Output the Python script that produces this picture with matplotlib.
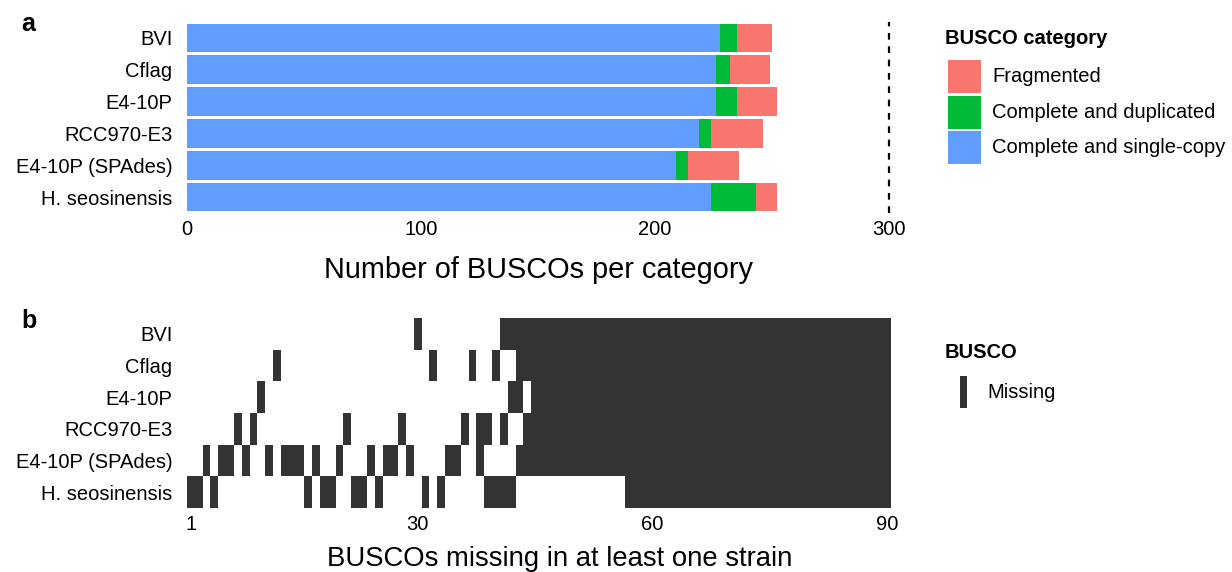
import numpy as np
import matplotlib
matplotlib.use("Agg")
import matplotlib.pyplot as plt
from matplotlib.colors import ListedColormap
from matplotlib.patches import Rectangle

plt.rcParams['font.family'] = ['Liberation Sans', 'DejaVu Sans']

strains = ["BVI", "Cflag", "E4-10P", "RCC970-E3", "E4-10P (SPAdes)", "H. seosinensis"]

# panel a - BUSCO counts per category
single_copy = [228, 226, 226, 219, 209, 224]
duplicated = [7, 6, 9, 5, 5, 19]
fragmented = [15, 17, 17, 22, 22, 9]
cutoff = 300

# panel b - BUSCO index (1..90) marked missing, one list per strain
n_busco = 90
miss_bvi = [30] + list(range(41, 91))
miss_cflag = [12, 32, 37, 40] + list(range(43, 91))
miss_e4 = [10, 42, 43] + list(range(45, 91))
miss_rcc = [7, 9, 21, 28, 36, 38, 39, 41] + list(range(44, 91))
miss_spades = [3, 5, 6, 8, 11, 13, 14, 15, 17, 20, 24, 26, 27, 29,
               34, 35, 38] + list(range(43, 91))
miss_hseo = [1, 2, 4, 16, 18, 19, 22, 23, 25, 31, 33, 39, 40, 41, 42] + list(range(57, 91))
missing = [miss_bvi, miss_cflag, miss_e4, miss_rcc, miss_spades, miss_hseo]
x_ticks_b = [1, 30, 60, 90]

c_single = "#619CFF"
c_dup = "#00BA38"
c_frag = "#F8766D"
c_dark = "#333333"

W, H = 1232, 572
fig = plt.figure(figsize=(W / 100, H / 100), dpi=100)

lab_size = 14.5

############## panel a
ax = fig.add_axes([187 / W, 1 - 213 / H, 704 / W, 191 / H])
y = np.arange(len(strains))
single_copy = np.array(single_copy)
duplicated = np.array(duplicated)
fragmented = np.array(fragmented)
ax.barh(y, single_copy, height=0.9, color=c_single)
ax.barh(y, duplicated, left=single_copy, height=0.9, color=c_dup)
ax.barh(y, fragmented, left=single_copy + duplicated, height=0.9, color=c_frag)
ax.axvline(cutoff, color="black", lw=1.6, ls=(0, (3, 3)))
ax.set_xlim(0, 300.9)
ax.set_ylim(len(strains) - 0.5, -0.5)
ax.set_yticks(y)
ax.set_yticklabels(strains)
ax.set_xticks([0, 100, 200, 300])
for s in ax.spines.values():
    s.set_visible(False)
ax.tick_params(axis="y", length=0, labelsize=lab_size, pad=10.5)
ax.tick_params(axis="x", length=0, labelsize=lab_size, pad=5)
ax.set_xlabel("Number of BUSCOs per category", fontsize=20.8, labelpad=12)

############## panel b
bx = fig.add_axes([187 / W, 1 - 508 / H, 704 / W, 190 / H])
mat = np.zeros((len(strains), n_busco))
for i, m in enumerate(missing):
    mat[i, np.array(m) - 1] = 1
bx.imshow(mat, cmap=ListedColormap(["white", c_dark]), vmin=0, vmax=1,
          aspect="auto", interpolation="nearest",
          extent=(0.5, n_busco + 0.5, len(strains) - 0.5, -0.5))
bx.set_xlim(0.5, n_busco + 0.5)
bx.set_ylim(len(strains) - 0.5, -0.5)
bx.set_yticks(y)
bx.set_yticklabels(strains)
bx.set_xticks(x_ticks_b)
for s in bx.spines.values():
    s.set_visible(False)
bx.tick_params(axis="y", length=0, labelsize=lab_size, pad=10.5)
bx.tick_params(axis="x", length=0, labelsize=lab_size, pad=5)
bx.set_xlabel("BUSCOs missing in at least one strain", fontsize=19.8)
bx.xaxis.set_label_coords(0.53, -0.2)

############## legends + panel letters (pixel coords overlay)
lax = fig.add_axes([0, 0, 1, 1])
lax.set_xlim(0, W)
lax.set_ylim(H, 0)
lax.axis("off")

lax.text(945, 38, "BUSCO category", fontsize=lab_size, fontweight="bold", va="center")
leg_cols = [c_frag, c_dup, c_single]
leg_labs = ["Fragmented", "Complete and duplicated", "Complete and single-copy"]
for k in range(3):
    lax.add_patch(Rectangle((948, 60 + k * 35.5), 33, 33, color=leg_cols[k], lw=0))
    lax.text(992, 76.5 + k * 35.5, leg_labs[k], fontsize=lab_size, va="center")

lax.text(945, 352, "BUSCO", fontsize=lab_size, fontweight="bold", va="center")
lax.add_patch(Rectangle((960, 376), 7, 32, color=c_dark, lw=0))
lax.text(987, 392, "Missing", fontsize=lab_size, va="center")

lax.text(21, 24, "a", fontsize=18, fontweight="bold", va="center")
lax.text(21, 321, "b", fontsize=18, fontweight="bold", va="center")

fig.savefig("out.png", dpi=100)
